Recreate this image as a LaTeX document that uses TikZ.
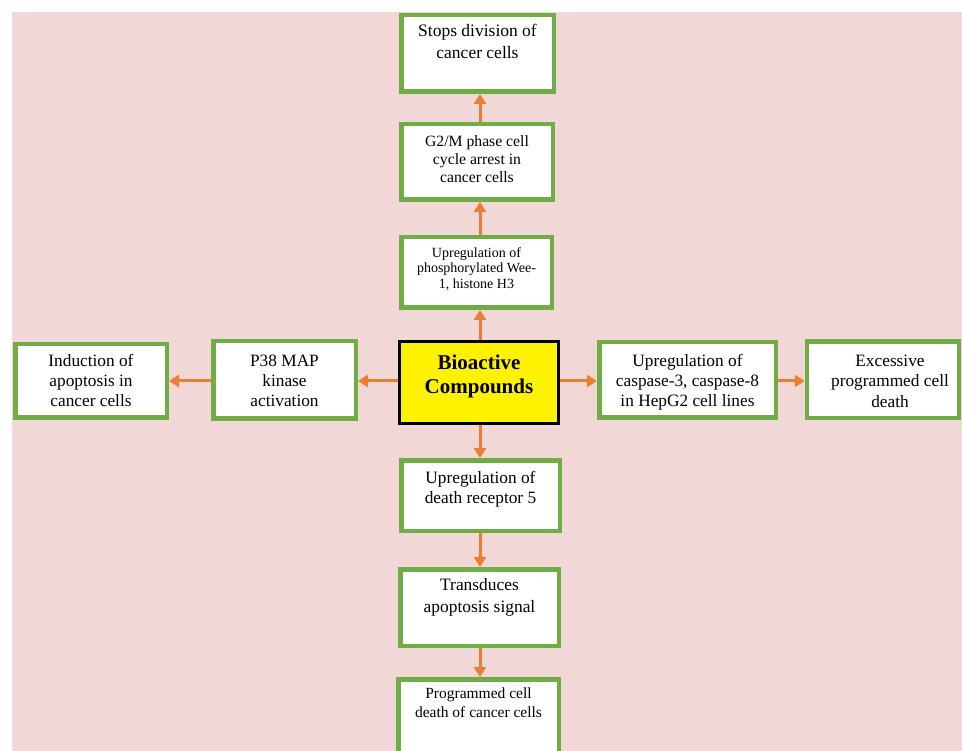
\documentclass[tikz,border=0pt]{standalone}
\usepackage{fontspec}
\setmainfont{Liberation Serif}
\usetikzlibrary{arrows.meta}
\definecolor{bgpink}{RGB}{242,215,215}
\definecolor{boxgreen}{RGB}{112,173,71}
\definecolor{arrorange}{RGB}{237,125,49}
\vfuzz=\maxdimen
\hfuzz=\maxdimen
\newcommand{\boxtext}[5]{\parbox[c][#1pt][t]{#2pt}{\fontsize{#3pt}{#4pt}\selectfont\centering\strut #5}}
\tikzset{
  gbox/.style={draw=boxgreen, line width=4.5pt, fill=white, inner sep=0pt},
  ybox/.style={draw=black, line width=3pt, fill=yellow, inner sep=0pt},
  arr/.style={draw=arrorange, line width=3pt, -{Triangle[length=10pt,width=12pt]}}
}
\begin{document}
\begin{tikzpicture}[x=1pt,y=-1pt]
\useasboundingbox (0,0) rectangle (962,751);
\clip (0,0) rectangle (962,751);
\fill[white] (0,0) rectangle (962,751);
\fill[bgpink] (12,12) rectangle (962,751);

\coordinate (vx) at (480,0);
\coordinate (hy) at (0,381);

\node[gbox, minimum width=152.5pt, minimum height=76.5pt] (stops) at (477.5,53.5)
  {\boxtext{63.8}{145}{17.5}{22}{Stops division of\\cancer cells}};
\node[gbox, minimum width=151.5pt, minimum height=75.5pt] (g2m) at (477,162)
  {\boxtext{55.8}{145}{15.7}{18}{G2/M phase cell\\cycle arrest in\\cancer cells}};
\node[gbox, minimum width=150.5pt, minimum height=70.5pt] (wee) at (476.5,272.5)
  {\boxtext{52.1}{145}{14}{15.5}{Upregulation of\\phosphorylated Wee-\\1, histone H3}};
\node[ybox, minimum width=159pt, minimum height=82pt] (bio) at (479,382.5)
  {\boxtext{62}{150}{21}{25}{\bfseries Bioactive\\Compounds}};
\node[gbox, minimum width=142.5pt, minimum height=77.5pt] (p38) at (284.5,380)
  {\boxtext{54}{135}{17.3}{20}{P38 MAP\\kinase\\activation}};
\node[gbox, minimum width=151.5pt, minimum height=73.5pt] (ind) at (91,381)
  {\boxtext{56}{145}{17.3}{20}{Induction of\\apoptosis in\\cancer cells}};
\node[gbox, minimum width=176.5pt, minimum height=75.5pt] (casp) at (687.5,380)
  {\boxtext{54}{170}{17.3}{20}{Upregulation of\\caspase-3, caspase-8\\in HepG2 cell lines}};
\node[gbox, minimum width=152pt, minimum height=76.5pt] (exc) at (883,380)
  {\hspace*{14pt}\boxtext{56}{130}{17.3}{20.5}{Excessive\\programmed cell\\death}};
\node[gbox, minimum width=158.5pt, minimum height=70.5pt] (dr5) at (480.5,495.5)
  {\boxtext{53}{150}{17.3}{20}{Upregulation of\\death receptor 5}};
\node[gbox, minimum width=158.5pt, minimum height=76.5pt] (trans) at (479.5,607.5)
  {\boxtext{65.8}{150}{17.4}{22}{Transduces\\apoptosis signal}};
\node[gbox, minimum width=160.5pt, minimum height=85.5pt] (prog) at (478.5,722)
  {\boxtext{72}{150}{15.5}{18.5}{Programmed cell\\death of cancer cells}};

\draw[arr] (bio.north -| vx) -- (wee.south -| vx);
\draw[arr] (wee.north -| vx) -- (g2m.south -| vx);
\draw[arr] (g2m.north -| vx) -- (stops.south -| vx);
\draw[arr] (bio.south -| vx) -- (dr5.north -| vx);
\draw[arr] (dr5.south -| vx) -- (trans.north -| vx);
\draw[arr] (trans.south -| vx) -- (prog.north -| vx);
\draw[arr] (bio.west |- hy) -- (p38.east |- hy);
\draw[arr] (p38.west |- hy) -- (ind.east |- hy);
\draw[arr] (bio.east |- hy) -- (casp.west |- hy);
\draw[arr] (casp.east |- hy) -- (exc.west |- hy);
\end{tikzpicture}
\end{document}
